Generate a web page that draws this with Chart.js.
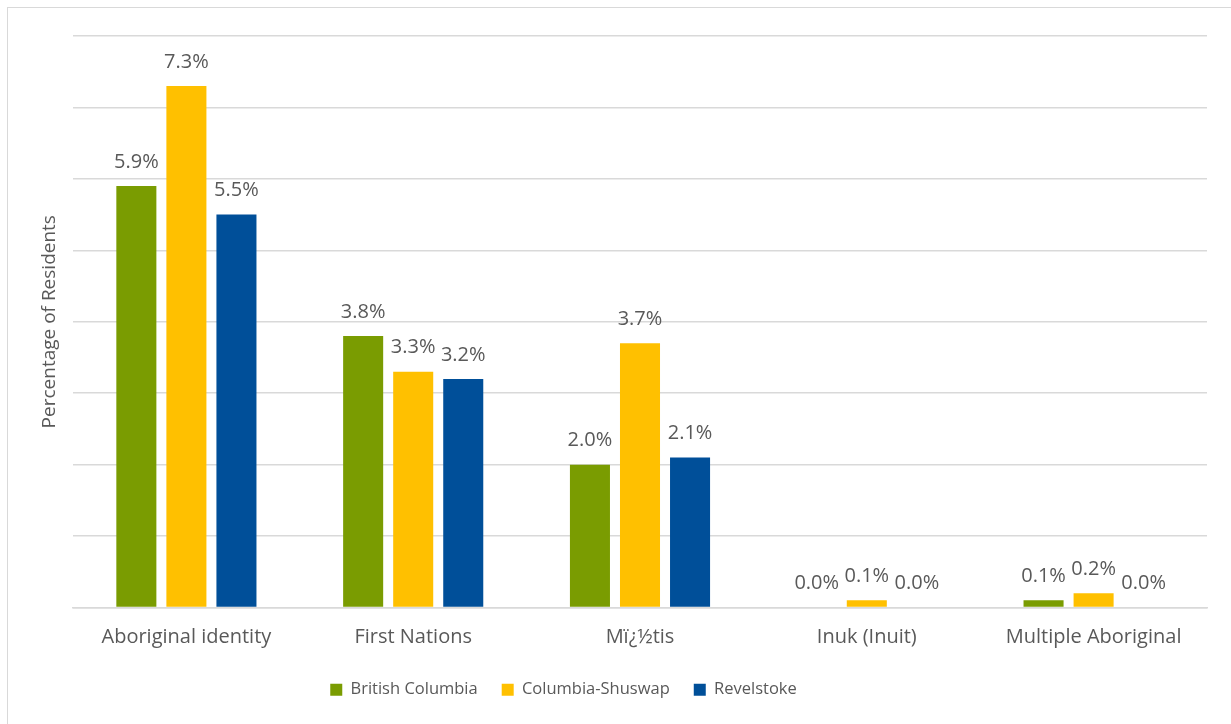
<!DOCTYPE html>
<html>
<head>
<meta charset="utf-8">
<script src="https://cdn.jsdelivr.net/npm/chart.js@4.4.1/dist/chart.umd.min.js"></script>
<style>
    html, body { margin: 0; padding: 0; background: #fff; }
    #frame {
        position: absolute; left: 7px; top: 7px; width: 1240px; height: 740px;
        border-left: 1.5px solid #d9d9d9; border-top: 1.5px solid #d9d9d9;
    }
    #wrap { position: absolute; left: 0; top: 0; width: 1231px; height: 724px; }
</style>
</head>
<body>
<div id="frame"></div>
<div id="wrap"><canvas id="myChart"></canvas></div>
<script>
const categories = ["Aboriginal identity", "First Nations", "Mï¿½tis", "Inuk (Inuit)", "Multiple Aboriginal"];
const seriesNames = ["British Columbia", "Columbia-Shuswap", "Revelstoke"];
const britishColumbia = [5.9, 3.8, 2.0, 0.0, 0.1];
const columbiaShuswap = [7.3, 3.3, 3.7, 0.1, 0.2];
const revelstoke = [5.5, 3.2, 2.1, 0.0, 0.0];
const colors = ["#7a9c01", "#ffc000", "#004f99"];

const FONT = "'Open Sans', sans-serif";
const GRAY = "#595959";

// labels above the bars, like the Excel data labels
const barLabels = {
    id: "barLabels",
    afterDatasetsDraw(chart) {
        const ctx = chart.ctx;
        ctx.save();
        ctx.font = "20px " + FONT;
        ctx.fillStyle = GRAY;
        ctx.textAlign = "center";
        ctx.textBaseline = "bottom";
        chart.data.datasets.forEach((ds, i) => {
            chart.getDatasetMeta(i).data.forEach((bar, j) => {
                ctx.fillText(ds.data[j].toFixed(1) + "%", bar.x, bar.y - 14);
            });
        });
        ctx.restore();
    }
};

// excel puts the legend a bit left of centre
const shiftLegend = {
    id: "shiftLegend",
    afterLayout(chart) {
        chart.legend.left -= 57;
        chart.legend.right -= 57;
    }
};

const ctx = document.getElementById("myChart").getContext("2d");
new Chart(ctx, {
    type: "bar",
    data: {
        labels: categories,
        datasets: [
            { label: seriesNames[0], data: britishColumbia, backgroundColor: colors[0] },
            { label: seriesNames[1], data: columbiaShuswap, backgroundColor: colors[1] },
            { label: seriesNames[2], data: revelstoke, backgroundColor: colors[2] }
        ]
    },
    options: {
        responsive: true,
        maintainAspectRatio: false,
        animation: false,
        layout: { padding: { left: 34, right: 24, top: 36, bottom: 16 } },
        datasets: { bar: { categoryPercentage: 0.662, barPercentage: 0.8 } },
        plugins: {
            tooltip: { enabled: false },
            legend: {
                position: "bottom",
                labels: {
                    font: { family: FONT, size: 16.5 },
                    color: GRAY,
                    boxWidth: 12,
                    boxHeight: 12,
                    padding: 24
                }
            }
        },
        scales: {
            x: {
                grid: { display: false },
                border: { color: "#d9d9d9", width: 1.5 },
                ticks: { font: { family: FONT, size: 20 }, color: GRAY, padding: 10 },
                afterFit: s => { s.height = 50; }
            },
            y: {
                min: 0,
                max: 8,
                ticks: { display: false, stepSize: 1 },
                grid: { color: "#d9d9d9", lineWidth: 1.5, drawTicks: false },
                border: { display: false },
                title: {
                    display: true,
                    text: "Percentage of Residents",
                    font: { family: FONT, size: 19 },
                    color: GRAY
                },
                afterFit: s => { s.width = 39; }
            }
        }
    },
    plugins: [barLabels, shiftLegend]
});
</script>
</body>
</html>
